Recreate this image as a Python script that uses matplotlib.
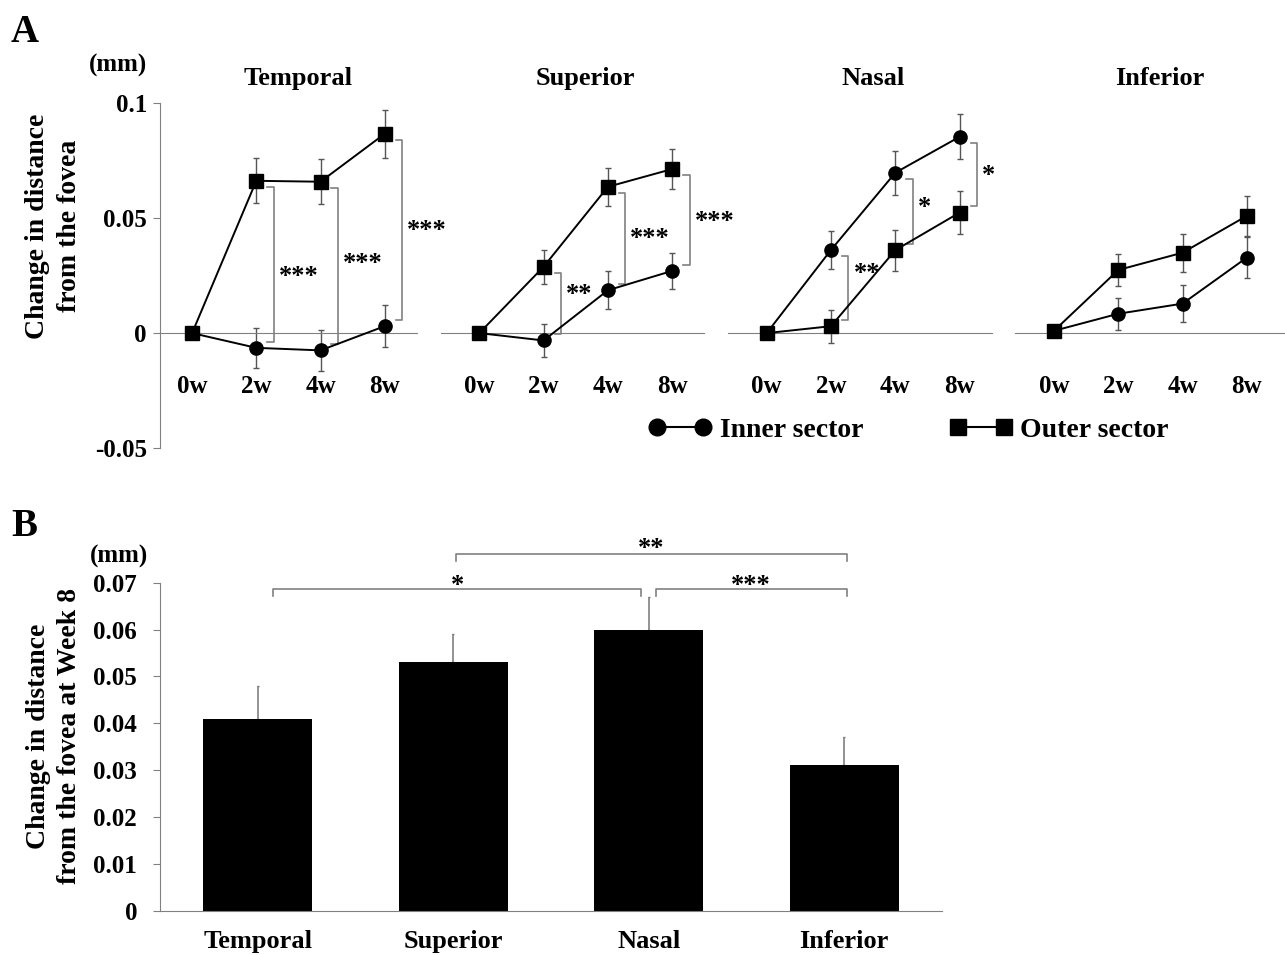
import matplotlib
matplotlib.use('Agg')
import matplotlib.pyplot as plt
from matplotlib.lines import Line2D

plt.rcParams['font.family'] = ['Liberation Serif', 'DejaVu Serif']
plt.rcParams['font.weight'] = 'bold'

# ---- data: change in distance from the fovea (mm), mean and SD ----
weeks = ['0w', '2w', '4w', '8w']
sectors = ['Temporal', 'Superior', 'Nasal', 'Inferior']

temporal_inner = [0.0, -0.0064, -0.0075, 0.0030]
temporal_inner_sd = [0.0, 0.0087, 0.0088, 0.0091]
temporal_outer = [0.0, 0.0661, 0.0657, 0.0865]
temporal_outer_sd = [0.0, 0.0097, 0.0097, 0.0104]

superior_inner = [0.0, -0.0032, 0.0186, 0.0270]
superior_inner_sd = [0.0, 0.0070, 0.0082, 0.0079]
superior_outer = [0.0, 0.0288, 0.0635, 0.0712]
superior_outer_sd = [0.0, 0.0074, 0.0083, 0.0088]

nasal_inner = [0.0, 0.0361, 0.0696, 0.0852]
nasal_inner_sd = [0.0, 0.0082, 0.0096, 0.0098]
nasal_outer = [0.0, 0.0030, 0.0360, 0.0523]
nasal_outer_sd = [0.0, 0.0072, 0.0089, 0.0094]

inferior_inner = [0.001, 0.0084, 0.0128, 0.0328]
inferior_inner_sd = [0.0, 0.0070, 0.0081, 0.0089]
inferior_outer = [0.001, 0.0274, 0.0349, 0.0509]
inferior_outer_sd = [0.0, 0.0071, 0.0083, 0.0087]

# inner vs outer at each week: (week index, stars)
temporal_sig = [(1, '***'), (2, '***'), (3, '***')]
superior_sig = [(1, '**'), (2, '***'), (3, '***')]
nasal_sig = [(1, '**'), (2, '*'), (3, '*')]
inferior_sig = []

# week 8, all sectors
week8_mean = [0.041, 0.053, 0.060, 0.031]
week8_sd = [0.007, 0.006, 0.007, 0.006]

GRAY = '#808080'
ERR = '#555555'

fig = plt.figure(figsize=(12.85, 9.55), dpi=100)
W, H = 1285.0, 955.0


def px_axes(left, top, width, height):
    return fig.add_axes([left / W, 1 - (top + height) / H, width / W, height / H])


def draw_sector(ax, title, inner, inner_sd, outer, outer_sd, sig, star_y, first):
    # spine position first: moving it resets the tick objects
    ax.spines['bottom'].set_position(('data', 0))
    ax.spines['bottom'].set_color(GRAY)
    ax.spines['top'].set_visible(False)
    ax.spines['right'].set_visible(False)

    x = list(range(len(weeks)))
    for y, sd in ((inner, inner_sd), (outer, outer_sd)):
        ax.errorbar(x, y, yerr=sd, fmt='none', ecolor=ERR, elinewidth=1,
                    capsize=2, capthick=1, zorder=2)
    ax.plot(x, inner, color='black', lw=1.4, marker='o', ms=9.5, zorder=3)
    ax.plot(x, outer, color='black', lw=1.4, marker='s', ms=9.5, zorder=4)

    for (i, stars), sy in zip(sig, star_y):
        hi = max(inner[i], outer[i]) - 0.0027
        lo = min(inner[i], outer[i]) + 0.0027
        xa, xb = i + 0.17, i + 0.27
        ax.plot([xa, xb, xb, xa], [hi, hi, lo, lo], color=GRAY, lw=1.2,
                clip_on=False, zorder=1)
        ax.text(i + 0.35, sy - 0.0052, stars, ha='left', va='baseline',
                fontsize=19)

    ax.set_ylim(-0.05, 0.1)
    ax.set_xticks(x)
    ax.set_xticklabels(weeks, fontsize=18)
    ax.tick_params(axis='x', length=0, pad=30)
    if first:
        ax.spines['left'].set_color(GRAY)
        ax.set_yticks([-0.05, 0, 0.05, 0.1])
        ax.set_yticklabels(['-0.05', '0', '0.05', '0.1'], fontsize=18)
        ax.tick_params(axis='y', direction='out', length=5, color=GRAY, pad=4.5)
    else:
        ax.spines['left'].set_visible(False)
        ax.set_yticks([])
    ax.text(1.65, 0.1105, title, ha='center', va='center', fontsize=19,
            clip_on=False)
    ax.patch.set_alpha(0)


unit = 64.3
ax1 = px_axes(160, 102.7, 4.0 * 64.2, 345.6)
ax1.set_xlim(-0.5, 3.5)
ax2 = px_axes(479.3 - 0.6 * unit, 102.7, 4.1 * unit, 345.6)
ax2.set_xlim(-0.6, 3.5)
ax3 = px_axes(766.7 - 0.6 * unit, 102.7, 4.1 * unit, 345.6)
ax3.set_xlim(-0.6, 3.5)
ax4 = px_axes(1054 - 0.6 * unit, 102.7, 4.2 * unit, 345.6)
ax4.set_xlim(-0.6, 3.6)

draw_sector(ax1, sectors[0], temporal_inner, temporal_inner_sd,
            temporal_outer, temporal_outer_sd, temporal_sig,
            [0.027, 0.0326, 0.047], True)
draw_sector(ax2, sectors[1], superior_inner, superior_inner_sd,
            superior_outer, superior_outer_sd, superior_sig,
            [0.0193, 0.0436, 0.0509], False)
draw_sector(ax3, sectors[2], nasal_inner, nasal_inner_sd,
            nasal_outer, nasal_outer_sd, nasal_sig,
            [0.0284, 0.057, 0.0709], False)
draw_sector(ax4, sectors[3], inferior_inner, inferior_inner_sd,
            inferior_outer, inferior_outer_sd, inferior_sig, [], False)

handles = [Line2D([], [], color='black', lw=1.5, marker='o', ms=12),
           Line2D([], [], color='black', lw=1.5, marker='s', ms=12)]
fig.legend(handles, ['Inner sector', 'Outer sector'], loc='center',
           bbox_to_anchor=(909 / W, 1 - 430 / H), ncol=2, frameon=False,
           numpoints=2, handlelength=2.25, handletextpad=0.3,
           columnspacing=3.1, prop={'size': 20, 'weight': 'bold'})

fig.text(53.5 / W, 1 - 226 / H, 'Change in distance\nfrom the fovea',
         rotation=90, ha='center', va='center', multialignment='center',
         fontsize=20, linespacing=1.35)
fig.text(118 / W, 1 - 65 / H, '(mm)', ha='center', va='center', fontsize=18)
fig.text(25 / W, 1 - 32 / H, 'A', ha='center', va='center', fontsize=28)

# ---- B: week 8 bars ----
axb = px_axes(160, 582.7, 782, 328)
xs = list(range(len(sectors)))
axb.bar(xs, week8_mean, width=0.56, color='black', zorder=2)
axb.errorbar(xs, week8_mean, yerr=[[0] * 4, week8_sd], fmt='none',
             ecolor=GRAY, elinewidth=1.2, capsize=1, zorder=1)
axb.set_xlim(-0.5, 3.5)
axb.set_ylim(0, 0.07)
axb.set_yticks([0, 0.01, 0.02, 0.03, 0.04, 0.05, 0.06, 0.07])
axb.set_yticklabels(['0', '0.01', '0.02', '0.03', '0.04', '0.05', '0.06', '0.07'],
                    fontsize=18)
axb.set_xticks(xs)
axb.set_xticklabels(sectors, fontsize=19)
axb.tick_params(axis='x', length=0, pad=14)
axb.tick_params(axis='y', direction='out', length=5, color=GRAY, pad=11.5)
for s in ('top', 'right'):
    axb.spines[s].set_visible(False)
for s in ('left', 'bottom'):
    axb.spines[s].set_color(GRAY)


def bar_bracket(ax, x0, x1, y, stars, star_base):
    d = 0.0015
    ax.plot([x0, x0, x1, x1], [y - d, y, y, y - d], color=GRAY, lw=1.2,
            clip_on=False)
    ax.text((x0 + x1) / 2, star_base, stars, ha='center', va='baseline',
            fontsize=19, clip_on=False)


bar_bracket(axb, xs[0] + 0.08, xs[2] - 0.04, 0.0687, '*', 0.0680)
bar_bracket(axb, xs[1] + 0.014, xs[3] + 0.013, 0.0761, '**', 0.0759)
bar_bracket(axb, xs[2] + 0.035, xs[3] + 0.013, 0.0686, '***', 0.0681)

fig.text(54 / W, 1 - 736 / H, 'Change in distance\nfrom the fovea at Week 8',
         rotation=90, ha='center', va='center', multialignment='center',
         fontsize=20, linespacing=1.35)
fig.text(119 / W, 1 - 556 / H, '(mm)', ha='center', va='center', fontsize=18)
fig.text(24 / W, 1 - 527 / H, 'B', ha='center', va='center', fontsize=28)

fig.savefig('out.png', dpi=100)
